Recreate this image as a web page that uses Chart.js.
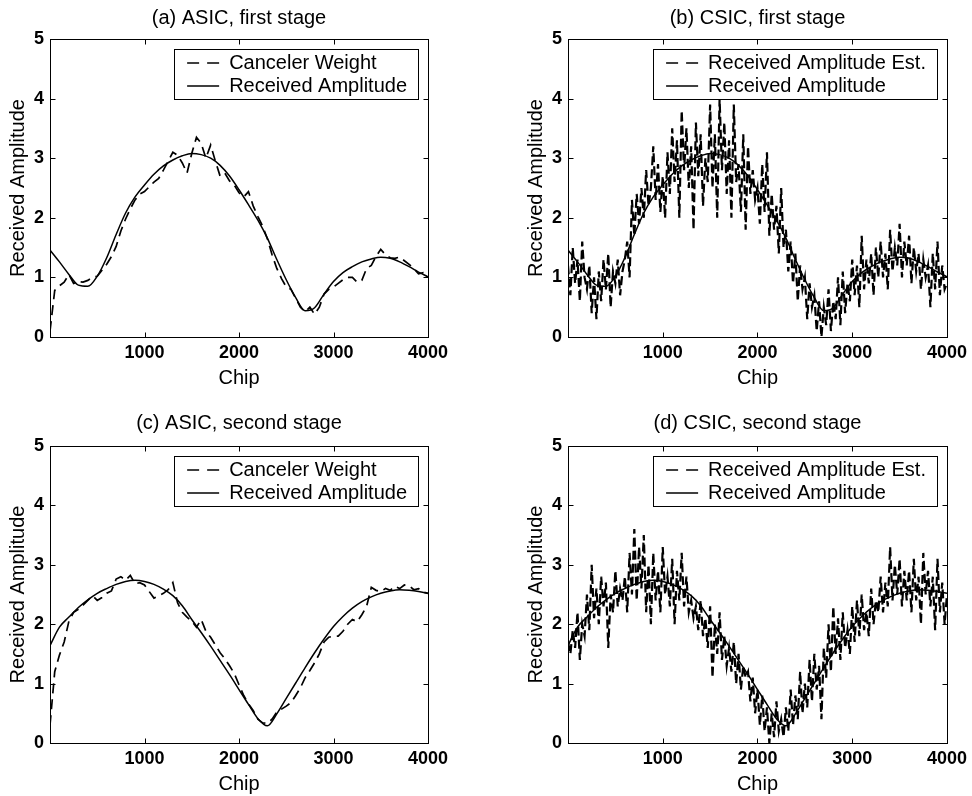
<!DOCTYPE html>
<html>
<head>
<meta charset="utf-8">
<title>Received amplitude, ASIC vs CSIC</title>
<script src="https://cdn.jsdelivr.net/npm/chart.js@4.4.1/dist/chart.umd.min.js"></script>
<style>
  body { margin: 0; background: #fff; }
  #wrap { position: relative; width: 972px; height: 796px; }
  .panel { position: absolute; width: 486px; height: 398px; }
</style>
</head>
<body>
<div id="wrap">
  <div class="panel" style="left:0;top:0"><canvas id="chartA" width="486" height="398"></canvas></div>
  <div class="panel" style="left:486px;top:0"><canvas id="chartB" width="486" height="398"></canvas></div>
  <div class="panel" style="left:0;top:398px"><canvas id="chartC" width="486" height="398"></canvas></div>
  <div class="panel" style="left:486px;top:398px"><canvas id="chartD" width="486" height="398"></canvas></div>
</div>
<script>
// chip positions (x values)
const chips100 = [0,100,200,300,400,500,600,700,800,900,1000,1100,1200,1300,1400,1500,1600,1700,1800,1900,2000,
  2100,2200,2300,2400,2500,2600,2700,2800,2900,3000,3100,3200,3300,3400,3500,3600,3700,3800,3900,4000];
const chips50 = [0,50,100,150,200,250,300,350,400,450,500,550,600,650,700,750,800,850,900,950,1000,1050,1100,1150,
  1200,1250,1300,1350,1400,1450,1500,1550,1600,1650,1700,1750,1800,1850,1900,1950,2000,2050,2100,2150,2200,2250,
  2300,2350,2400,2450,2500,2550,2600,2650,2700,2750,2800,2850,2900,2950,3000,3050,3100,3150,3200,3250,3300,3350,
  3400,3450,3500,3550,3600,3650,3700,3750,3800,3850,3900,3950,4000];
const chips25 = [0,25,50,75,100,125,150,175,200,225,250,275,300,325,350,375,400,425,450,475,500,525,550,575,
  600,625,650,675,700,725,750,775,800,825,850,875,900,925,950,975,1000,1025,1050,1075,1100,1125,1150,1175,
  1200,1225,1250,1275,1300,1325,1350,1375,1400,1425,1450,1475,1500,1525,1550,1575,1600,1625,1650,1675,1700,
  1725,1750,1775,1800,1825,1850,1875,1900,1925,1950,1975,2000,2025,2050,2075,2100,2125,2150,2175,2200,2225,
  2250,2275,2300,2325,2350,2375,2400,2425,2450,2475,2500,2525,2550,2575,2600,2625,2650,2675,2700,2725,2750,
  2775,2800,2825,2850,2875,2900,2925,2950,2975,3000,3025,3050,3075,3100,3125,3150,3175,3200,3225,3250,3275,
  3300,3325,3350,3375,3400,3425,3450,3475,3500,3525,3550,3575,3600,3625,3650,3675,3700,3725,3750,3775,3800,
  3825,3850,3875,3900,3925,3950,3975,4000];

const xTicks = [0, 1000, 2000, 3000, 4000];
const yTicks = [0, 1, 2, 3, 4, 5];

// true received amplitude, first and second stage (every 100 chips)
const ampFirst = [1.46,1.26,1.05,0.87,0.85,1.02,1.33,1.72,2.08,2.35,2.55,2.73,2.87,2.97,3.04,3.08,3.06,3.0,2.88,2.7,
  2.47,2.22,1.96,1.66,1.3,0.96,0.66,0.44,0.49,0.72,0.93,1.08,1.18,1.26,1.31,1.34,1.32,1.26,1.18,1.09,1.01];
const ampSecond = [1.64,1.95,2.12,2.28,2.41,2.52,2.6,2.67,2.72,2.74,2.72,2.67,2.59,2.48,2.31,2.08,1.86,1.63,1.39,1.15,
  0.9,0.65,0.41,0.29,0.49,0.75,1.01,1.27,1.52,1.75,1.96,2.13,2.27,2.38,2.46,2.52,2.56,2.58,2.57,2.55,2.52];

// ASIC canceler weights (every 50 chips)
const weightFirst = [0.1,0.78,0.86,0.92,1.05,0.9,0.93,0.92,0.95,1.0,
  1.02,1.12,1.22,1.35,1.52,1.78,1.98,2.15,2.3,2.4,
  2.44,2.52,2.6,2.66,2.8,2.95,3.1,3.05,2.92,2.75,
  3.08,3.35,3.25,3.0,3.22,2.95,2.7,2.75,2.62,2.55,
  2.42,2.35,2.44,2.2,2.02,1.86,1.65,1.38,1.15,0.98,
  0.84,0.8,0.65,0.5,0.42,0.5,0.38,0.5,0.72,0.8,
  0.84,0.9,0.96,1.0,1.0,0.92,0.95,1.15,1.2,1.35,
  1.47,1.38,1.33,1.32,1.34,1.28,1.22,1.15,1.06,1.08,
  1.03];
const weightSecond = [0.3,1.2,1.48,1.7,2.05,2.2,2.25,2.32,2.4,2.48,
  2.4,2.45,2.52,2.56,2.76,2.8,2.74,2.82,2.68,2.7,
  2.66,2.55,2.44,2.48,2.52,2.58,2.7,2.36,2.2,2.12,
  2.05,1.95,2.08,1.88,1.78,1.65,1.52,1.42,1.3,1.17,
  0.98,0.8,0.66,0.55,0.4,0.34,0.33,0.4,0.52,0.57,
  0.62,0.68,0.8,0.93,1.1,1.22,1.35,1.5,1.7,1.78,
  1.8,1.8,1.88,2.0,2.08,2.04,2.16,2.3,2.62,2.57,
  2.55,2.6,2.57,2.64,2.6,2.66,2.65,2.58,2.6,2.54,
  2.52];

// CSIC received amplitude estimates (every 25 chips)
const estFirst = [1.2,0.7,1.5,0.9, 1.3,0.6,1.6,1.0, 0.8,1.2,0.4,1.0, 0.3,1.1,0.6,1.3,
  0.8,1.4,0.5,1.1, 0.9,1.3,0.7,1.1, 1.3,1.6,1.0,2.3, 1.7,2.4,1.9,2.5,
  2.0,2.8,2.2,2.5, 3.2,2.3,2.9,2.1, 2.7,2.0,3.1,2.4, 3.5,2.6,3.3,2.0,
  3.8,2.8,3.5,2.5, 3.2,1.8,3.6,2.7, 3.4,2.2,3.0,2.6, 3.9,2.5,3.4,2.0,
  4.0,2.8,3.6,2.4, 3.3,2.0,3.9,2.6, 2.9,2.1,3.4,1.8, 3.2,2.4,2.8,2.3,
  2.5,1.9,2.9,2.1, 3.1,1.7,2.4,1.8, 2.2,1.4,2.5,1.5, 1.8,1.1,1.6,0.9,
  1.4,0.6,1.2,0.8, 1.0,0.3,0.9,0.5, 0.7,0.1,0.6,0.0, 0.5,0.2,0.8,0.1,
  0.6,0.3,1.0,0.2, 1.1,0.4,0.9,0.6, 1.3,0.7,1.2,0.5, 1.7,0.8,1.3,0.9,
  1.4,0.7,1.5,1.0, 1.6,1.0,1.4,0.8, 1.8,1.1,1.5,1.2, 1.9,1.0,1.6,1.2,
  1.7,0.9,1.5,1.1, 1.4,0.8,1.3,1.0, 1.2,0.5,1.4,0.8, 1.6,0.7,1.2,0.8,
  0.9];
const estSecond = [1.7,1.5,1.9,1.6, 2.2,1.4,2.0,1.8, 2.5,1.9,3.0,2.1, 2.6,2.0,2.8,2.3,
  2.7,1.6,2.5,2.2, 2.9,2.3,2.6,2.4, 2.8,2.2,3.2,2.5, 3.6,2.4,3.3,2.6,
  3.5,2.2,3.0,2.0, 3.2,2.4,2.9,2.2, 3.3,2.5,2.8,2.3, 3.1,2.0,2.9,2.4,
  3.2,2.3,2.8,2.2, 2.4,2.1,2.3,1.9, 2.4,1.8,2.1,1.6, 2.3,1.1,2.0,1.5,
  2.2,1.4,1.8,1.3, 1.6,1.2,1.7,1.0, 1.5,0.9,1.3,1.1, 1.2,0.7,1.1,0.5,
  0.9,0.3,0.8,0.2, 0.6,0.0,0.5,0.1, 0.7,0.2,0.4,0.1, 0.6,0.2,0.9,0.3,
  0.8,0.4,1.2,0.5, 1.0,0.6,1.4,0.7, 1.5,0.9,1.3,0.4, 1.6,1.1,2.0,1.2,
  2.3,1.5,2.1,1.4, 2.2,1.6,1.9,1.5, 2.3,1.7,2.4,1.8, 2.5,1.9,2.2,1.8,
  2.6,2.0,2.4,2.2, 2.8,2.2,2.7,2.3, 3.3,2.4,3.0,2.5, 3.1,2.3,2.9,2.4,
  2.9,2.2,3.1,2.4, 2.8,2.0,3.2,2.5, 2.9,2.3,2.8,1.9, 3.1,2.2,2.7,2.0,
  2.5];

Chart.defaults.font.family = '"Liberation Sans", Arial, Helvetica, sans-serif';
Chart.defaults.color = '#000';

function toPoints(xs, ys) {
  return xs.map((x, i) => ({ x: x, y: ys[i] }));
}

// matlab-ish frame: box round the plot, inward ticks, boxed legend on top of the data
const framePlugin = {
  id: 'frame',
  afterLayout(chart) {
    const lg = chart.legend;
    const area = chart.chartArea;
    lg.left = area.right - 11 - lg.width;
    lg.right = lg.left + lg.width;
    lg.top = area.top + 11;
    lg.bottom = area.bottom;
  },
  afterDatasetsDraw(chart) {
    const { ctx, chartArea: area, scales } = chart;
    const lg = chart.legend;
    const bx = Math.round(lg.left - 10) + 0.5;
    const by = Math.round(area.top + 10) + 0.5;
    const bw = Math.round(area.right - 10) - Math.round(lg.left - 10);
    ctx.save();
    ctx.fillStyle = '#fff';
    ctx.fillRect(bx, by, bw, 50);
    ctx.strokeStyle = '#000';
    ctx.lineWidth = 1;
    ctx.strokeRect(bx, by, bw, 50);
    ctx.restore();
    lg.draw();

    const l = Math.round(area.left) + 0.5, r = Math.round(area.right) + 0.5;
    const t = Math.round(area.top) + 0.5, b = Math.round(area.bottom) + 0.5;
    ctx.save();
    ctx.strokeStyle = '#000';
    ctx.lineWidth = 1;
    ctx.strokeRect(l, t, r - l, b - t);
    ctx.beginPath();
    yTicks.forEach(v => {
      const py = Math.round(scales.y.getPixelForValue(v)) + 0.5;
      ctx.moveTo(l, py); ctx.lineTo(l + 5, py);
      ctx.moveTo(r, py); ctx.lineTo(r - 5, py);
    });
    xTicks.forEach(v => {
      const px = Math.round(scales.x.getPixelForValue(v)) + 0.5;
      ctx.moveTo(px, b); ctx.lineTo(px, b - 5);
      ctx.moveTo(px, t); ctx.lineTo(px, t + 5);
    });
    ctx.stroke();
    ctx.restore();
  }
};

function makeChart(id, cfg) {
  return new Chart(document.getElementById(id), {
    type: 'line',
    data: {
      datasets: [
        {
          label: cfg.estLabel,
          data: toPoints(cfg.estChips, cfg.est),
          borderColor: '#000',
          borderWidth: cfg.estWidth,
          borderDash: cfg.estDash,
          pointRadius: 0,
          pointStyle: 'line',
          tension: 0
        },
        {
          label: 'Received Amplitude',
          data: toPoints(chips100, cfg.amp),
          borderColor: '#000',
          borderWidth: 1.5,
          pointRadius: 0,
          pointStyle: 'line',
          cubicInterpolationMode: 'monotone'
        }
      ]
    },
    options: {
      responsive: false,
      animation: false,
      devicePixelRatio: 1,
      layout: { padding: { left: cfg.padLeft, right: cfg.padRight, top: 0, bottom: 0 } },
      plugins: {
        title: {
          display: true,
          text: cfg.title,
          fullSize: false,
          color: '#000',
          font: { size: 20, weight: 'normal' },
          padding: { top: cfg.titleTop, bottom: cfg.titleBottom }
        },
        legend: {
          position: 'chartArea',
          align: 'start',
          labels: {
            usePointStyle: true,
            pointStyleWidth: 32,
            padding: 3,
            color: '#000',
            font: { size: 20 },
            generateLabels(chart) {
              const items = Chart.defaults.plugins.legend.labels.generateLabels(chart);
              items.forEach(it => {
                const ds = chart.data.datasets[it.datasetIndex];
                it.pointStyle = 'line';
                it.lineWidth = 1.5;
                it.strokeStyle = '#000';
                it.lineDash = ds.borderDash ? [12, 8] : [];
              });
              return items;
            }
          }
        },
        tooltip: { enabled: false }
      },
      scales: {
        x: {
          type: 'linear',
          min: 0,
          max: 4000,
          afterFit: s => { s.height = cfg.xHeight; },
          afterBuildTicks: s => { s.ticks = xTicks.map(v => ({ value: v })); },
          grid: { display: false, drawTicks: false },
          border: { display: false },
          ticks: {
            padding: 5,
            maxRotation: 0,
            autoSkip: false,
            color: '#000',
            font: { size: 18, weight: 'bold' },
            callback: v => v === 0 ? '' : String(v)
          },
          title: {
            display: true,
            text: 'Chip',
            color: '#000',
            font: { size: 20 },
            padding: { top: 0, bottom: cfg.chipPad }
          }
        },
        y: {
          min: 0,
          max: 5,
          afterFit: s => { s.width = 50; },
          afterBuildTicks: s => { s.ticks = yTicks.map(v => ({ value: v })); },
          grid: { display: false, drawTicks: false },
          border: { display: false },
          ticks: {
            padding: 6,
            color: '#000',
            font: { size: 18, weight: 'bold' },
            callback: v => String(v)
          },
          title: {
            display: true,
            text: 'Received Amplitude',
            color: '#000',
            font: { size: 20 },
            padding: { top: 6, bottom: 0 }
          }
        }
      }
    },
    plugins: [framePlugin]
  });
}

makeChart('chartA', {
  title: '(a) ASIC, first stage', estLabel: 'Canceler Weight',
  estChips: chips50, est: weightFirst, estWidth: 1.7, estDash: [10, 6], amp: ampFirst,
  padLeft: 0, padRight: 58, titleTop: 6, titleBottom: 9, xHeight: 61, chipPad: 8
});
makeChart('chartB', {
  title: '(b) CSIC, first stage', estLabel: 'Received Amplitude Est.',
  estChips: chips25, est: estFirst, estWidth: 2.2, estDash: [9, 4], amp: ampFirst,
  padLeft: 32, padRight: 23, titleTop: 6, titleBottom: 9, xHeight: 61, chipPad: 8
});
makeChart('chartC', {
  title: '(c) ASIC, second stage', estLabel: 'Canceler Weight',
  estChips: chips50, est: weightSecond, estWidth: 1.7, estDash: [10, 6], amp: ampSecond,
  padLeft: 0, padRight: 58, titleTop: 13, titleBottom: 11, xHeight: 53, chipPad: 0
});
makeChart('chartD', {
  title: '(d) CSIC, second stage', estLabel: 'Received Amplitude Est.',
  estChips: chips25, est: estSecond, estWidth: 2.2, estDash: [9, 4], amp: ampSecond,
  padLeft: 32, padRight: 23, titleTop: 13, titleBottom: 11, xHeight: 53, chipPad: 0
});
</script>
</body>
</html>
